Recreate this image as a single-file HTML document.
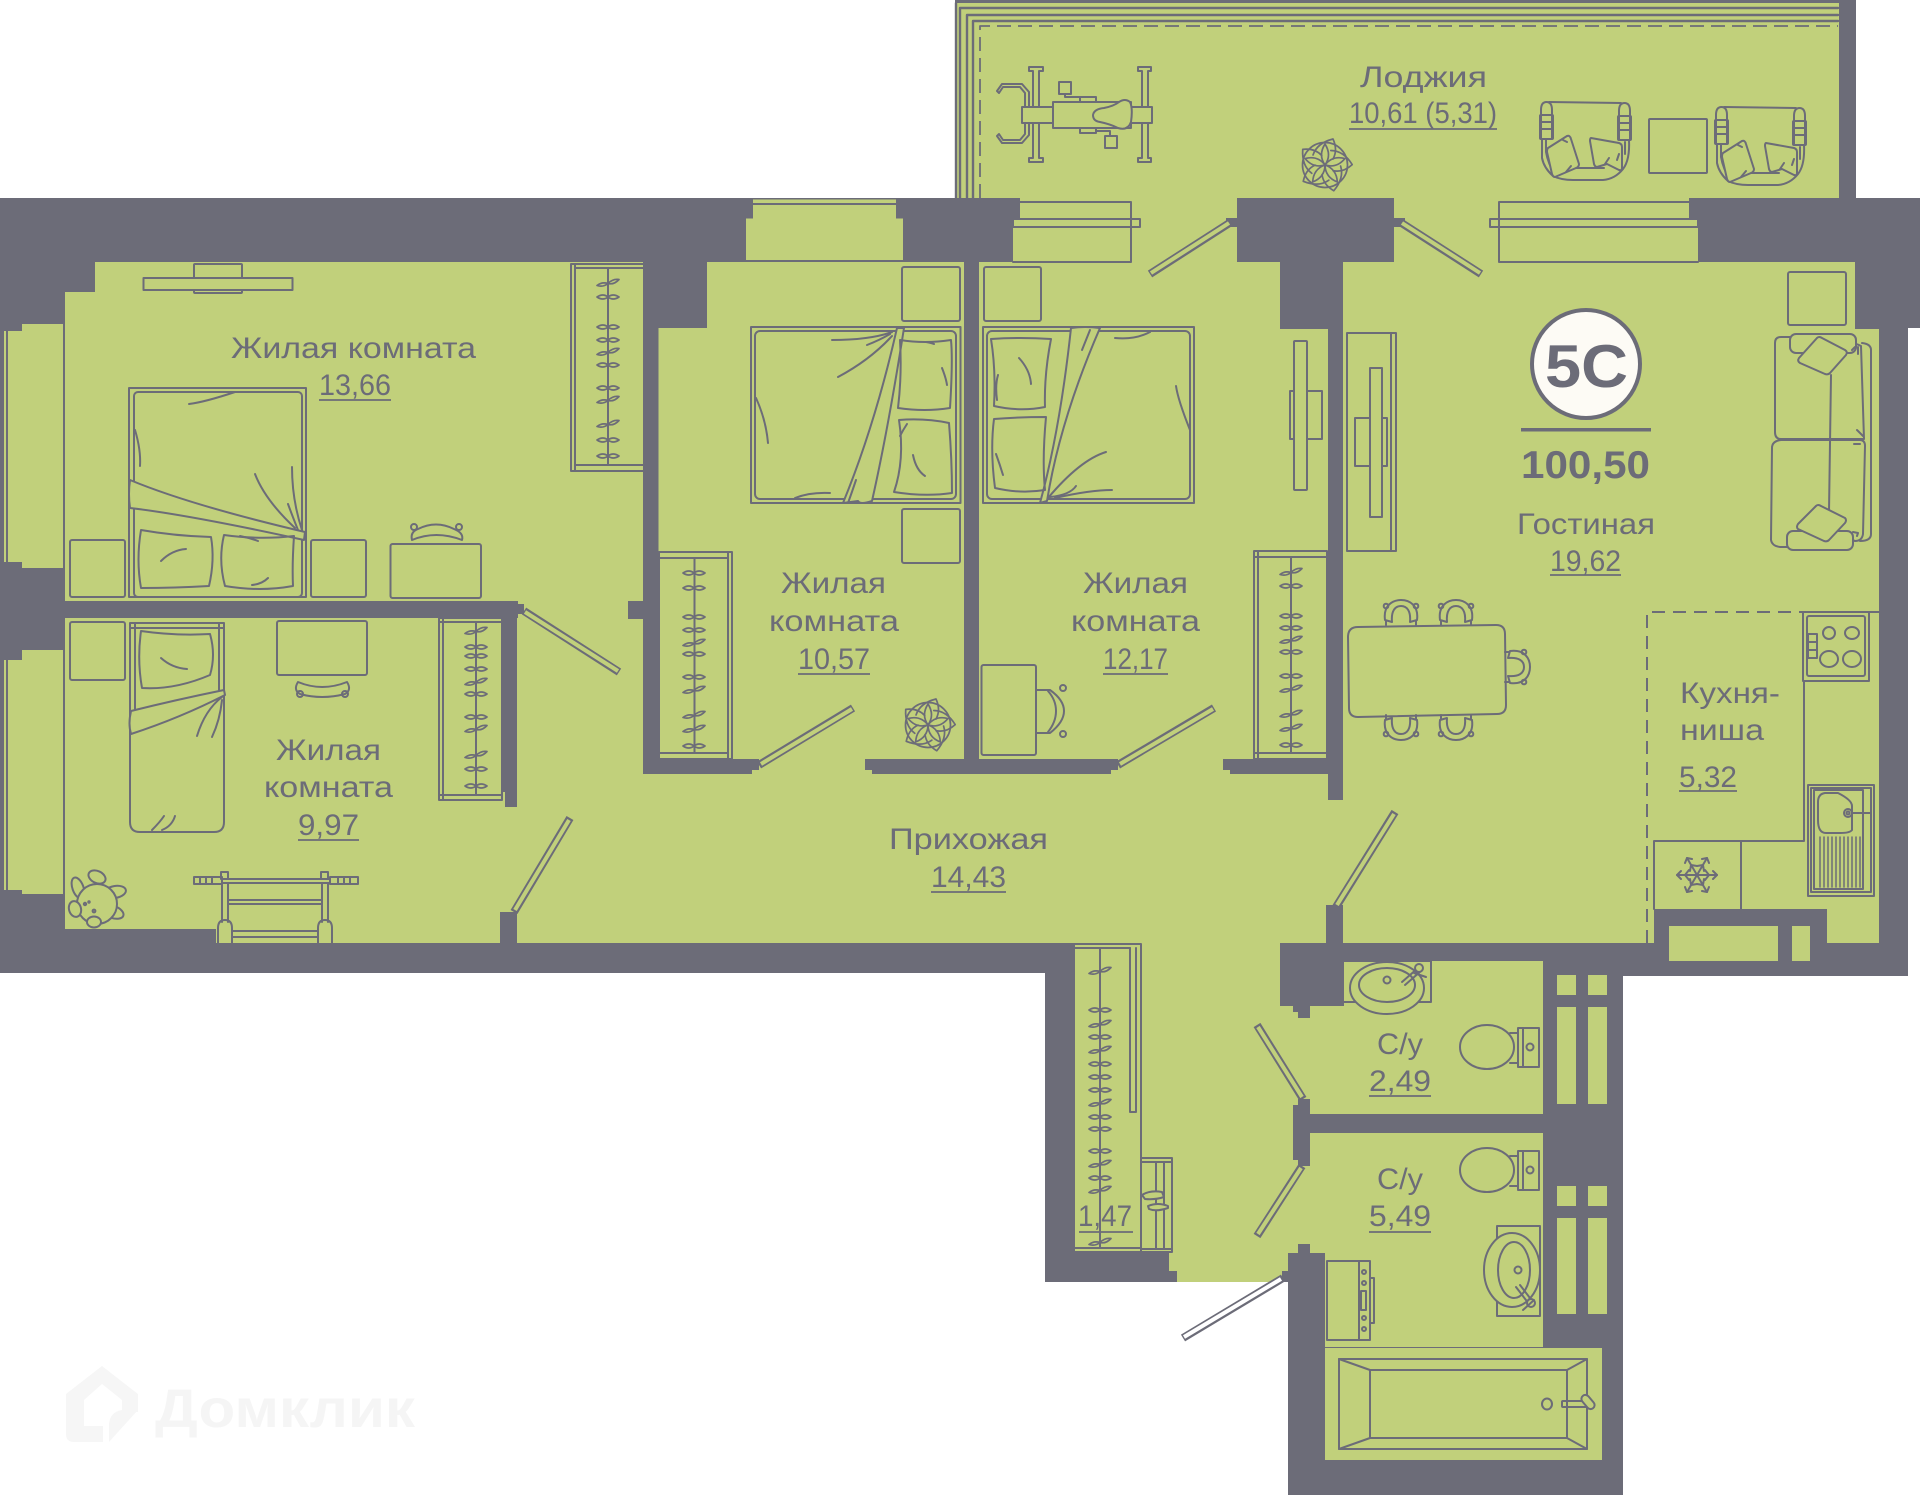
<!DOCTYPE html>
<html lang="ru">
<head>
<meta charset="utf-8">
<title>План квартиры</title>
<style>
html,body{margin:0;padding:0;background:#fff}
svg{display:block}
text{font-family:"Liberation Sans","DejaVu Sans",sans-serif;fill:#6c6c78}
</style>
</head>
<body>
<svg xmlns="http://www.w3.org/2000/svg" width="1920" height="1495" viewBox="0 0 1920 1495">
<defs>
<g id="h"><path d="M-11,2.500 Q-6,-1.500 0,0.500 Q-5,4.500 -11,2.500Z M0,0.500 Q5,-4.500 11,-3.500 Q6,2 0,0.500Z"/></g>
<g id="f"><path d="M-11,0 Q-5,-4 0,0 Q-5,4 -11,0Z M0,0 Q5,-4 11,0 Q5,4 0,0Z"/></g>
<g id="pp"><path d="M0,0 Q-7,-10 0,-21 Q7,-10 0,0Z"/><path d="M-12,-10 Q-8,-22 8,-26 Q13,-15 8,-6"/></g>
<g id="plant">
<circle r="22.500"/>
<use href="#pp"/><use href="#pp" transform="rotate(72)"/><use href="#pp" transform="rotate(144)"/><use href="#pp" transform="rotate(216)"/><use href="#pp" transform="rotate(288)"/>
</g>
<g id="chair">
<path d="M2,20 C0,5 10,0 18,0 C26,0 36,5 34,20 L27,22 C28,11 24,6 18,6 C12,6 8,11 9,22 Z"/>
<circle cx="3" cy="6" r="2.300"/><circle cx="33" cy="6" r="2.300"/>
<path d="M3,21 V25 M33,21 V25"/>
</g>
<g id="arm">
<path d="M8,0 L80,1"/>
<path d="M0,36 V8 Q0,0 5.500,0 Q11,0 11,8 V36"/>
<path d="M78,37 V9 Q78,1 83.500,1 Q89,1 89,9 V37"/>
<rect x="-1" y="13" width="13" height="24" rx="1"/><rect x="77" y="14" width="13" height="24" rx="1"/>
<path d="M-1,20 H12 M-1,27 H12 M77,21 H90 M77,28 H90"/>
<path d="M1,37 V56 Q3,66 12,74 Q20,78 32,78 H62 Q74,77 82,67 Q89,58 88,38"/>
<path d="M5,37 V50 Q7,62 14,72"/><path d="M34,66 H63 M84,40 V52"/>
<path d="M14,74 Q22,67 34,66"/>
<path d="M7,46 L26,34 Q29,33 30,37 L38,62 Q38,65 35,66 L14,75 Q12,75 11,72 L6,50 Q6,47 7,46Z" fill="#c1d07b"/>
<path d="M50,36 L78,41 Q81,42 81,45 V66 Q81,69 78,68 L66,62 L56,65 Q54,65 53,62 L49,39 Q49,36 50,36Z" fill="#c1d07b"/>
<path d="M22,38 L26,40 M25,70 L30,64 M64,62 L68,56 M78,52 L76,58"/>
</g>
<g id="toilet">
<ellipse cx="0" cy="0" rx="27" ry="22"/>
<path d="M23,-14 H31 V16 H23"/>
<path d="M31,-19 H52 V20 H31Z"/>
<path d="M36,-19 V20"/>
<circle cx="43" cy="0" r="3.500"/>
</g>
</defs>

<!-- watermark -->
<g fill="#f6f6f6" stroke="none">
<path d="M66,1394 L102,1366 L138,1394 V1412 H122 V1400 L102,1384 L84,1400 V1426 H103 V1442 H74 Q66,1442 66,1434Z"/>
<path d="M109,1442 V1424 Q110,1412 122,1410 L138,1410Z"/>
<text x="155" y="1427" font-size="54" font-weight="bold" textLength="260" lengthAdjust="spacingAndGlyphs" style="fill:#f5f5f5">Домклик</text>
</g>

<!-- walls base -->
<polygon fill="#6c6c78" points="0,198 1920,198 1920,328 1908,328 1908,976 1623,976 1623,1495 1288,1495 1288,1282 1045,1282 1045,973 0,973"/>

<!-- green areas -->
<g fill="#c1d07b">
<rect x="955" y="0" width="884" height="198"/>
<rect x="65" y="262" width="1790" height="681"/>
<rect x="1855" y="329" width="24" height="614"/>
<rect x="1020" y="198" width="217" height="64"/>
<rect x="1013" y="219" width="10" height="43"/>
<rect x="1394" y="198" width="295" height="64"/>
<rect x="1689" y="219" width="9" height="43"/>
<rect x="753" y="199.500" width="143" height="20"/>
<rect x="746" y="218.500" width="157" height="41.500"/>
<rect x="22" y="324" width="43" height="244"/>
<rect x="2" y="331" width="20" height="231"/>
<rect x="22" y="650" width="43" height="244"/>
<rect x="2" y="660" width="20" height="230"/>
<polygon points="1075,943 1543,943 1543,1253 1288,1253 1288,1282 1177,1282 1177,1271 1169,1271 1169,1253 1075,1253"/>
<rect x="1325" y="1253" width="218" height="94"/>
<rect x="1325" y="1348" width="277" height="112"/>
<rect x="1557" y="975" width="19" height="20"/><rect x="1588" y="975" width="19" height="20"/>
<rect x="1557" y="1007" width="19" height="97"/><rect x="1588" y="1007" width="19" height="97"/>
<rect x="1557" y="1186" width="19" height="20"/><rect x="1588" y="1186" width="19" height="20"/>
<rect x="1557" y="1218" width="19" height="96"/><rect x="1588" y="1218" width="19" height="96"/>
</g>

<!-- wall overlays -->
<g fill="#6c6c78">
<rect x="65" y="262" width="30" height="30"/>
<rect x="0" y="601" width="518" height="17"/>
<rect x="518" y="604" width="6" height="10"/>
<rect x="502" y="618" width="15" height="174"/>
<rect x="505" y="792" width="12" height="15"/>
<rect x="628" y="601" width="16" height="18"/>
<rect x="643" y="262" width="15.500" height="512"/>
<rect x="643" y="262" width="64" height="66"/>
<rect x="644" y="759" width="108" height="15"/>
<rect x="752" y="759" width="7" height="11"/>
<rect x="964" y="262" width="15" height="497"/>
<rect x="872" y="759" width="239" height="15"/>
<rect x="865" y="759" width="7" height="11"/>
<rect x="1111" y="759" width="7" height="11"/>
<rect x="1223" y="759" width="7" height="11"/>
<rect x="1230" y="759" width="98" height="15"/>
<rect x="1280" y="262" width="63" height="67"/>
<rect x="1328" y="329" width="15" height="471"/>
<rect x="500" y="912" width="17" height="31"/>
<rect x="65" y="929" width="151" height="14"/>
<rect x="1326" y="905" width="17" height="38"/>
<rect x="1654" y="909" width="173" height="34"/>
<rect x="1237" y="198" width="157" height="64"/>
<rect x="1226" y="218" width="11" height="9"/>
<rect x="1394" y="218" width="11" height="9"/>
<rect x="1280" y="943" width="64" height="63"/>
<rect x="1344" y="943" width="199" height="18"/>
<rect x="1293" y="1006" width="17" height="6"/>
<rect x="1298" y="1012" width="12" height="6"/>
<rect x="1293" y="1114" width="250" height="19"/>
<rect x="1293" y="1105" width="17" height="55"/>
<rect x="1298" y="1099" width="12" height="67"/>
<rect x="1298" y="1244" width="12" height="9"/>
<rect x="1288" y="1253" width="37" height="30"/>
<rect x="1282" y="1271" width="6" height="11"/>
<rect x="1839" y="0" width="17" height="198"/>
<rect x="955" y="0" width="901" height="3"/>
<rect x="753" y="203" width="143" height="2"/>
<rect x="746" y="260" width="157" height="2"/>
</g>
<g fill="#c1d07b">
<rect x="1669" y="926" width="109" height="35"/>
<rect x="1792" y="926" width="18" height="35"/>
</g>

<!-- doors -->
<g stroke-linecap="butt" fill="none">
<g stroke="#6c6c78" stroke-width="8">
<path d="M524,611 L619,672"/><path d="M514,912 L570,818"/><path d="M759,765 L853,708"/><path d="M1118,765 L1214,708"/>
<path d="M1231,222 L1150,274"/><path d="M1400,222 L1481,274"/><path d="M1336,907 L1395,812"/>
<path d="M1303,1099 L1257,1025"/><path d="M1302,1166 L1257,1236"/><path d="M1283,1278 L1183,1338"/>
</g>
<g stroke="#c1d07b" stroke-width="4">
<path d="M525,612 L618,671"/><path d="M515,910 L569,820"/><path d="M761,764 L852,709"/><path d="M1120,764 L1213,709"/>
<path d="M1229,223 L1151,273"/><path d="M1402,223 L1480,273"/><path d="M1337,905 L1394,814"/>
<path d="M1302,1097 L1258,1027"/><path d="M1301,1168 L1258,1234"/>
</g>
<path d="M1281,1279 L1184,1337" stroke="#fff" stroke-width="4"/>
</g>

<!-- furniture / line art -->
<g fill="none" stroke="#6c6c78" stroke-width="2" stroke-linejoin="round" stroke-linecap="round">
<!-- room A -->
<rect x="194" y="264" width="48" height="29" rx="1"/>
<rect x="143.500" y="278" width="149" height="12" fill="#c1d07b"/>
<rect x="129" y="388" width="177" height="209"/>
<rect x="134" y="392" width="168" height="205" rx="4"/>
<path d="M189,404 Q205,402 235,392"/><path d="M135,430 Q141,450 140,466"/>
<path d="M130,480 Q190,505 305,532 L304,540 Q190,515 130,508 Q128,494 130,480Z" fill="#c1d07b"/>
<path d="M255,474 Q265,500 295,528"/><path d="M292,467 Q292,500 302,530"/><path d="M288,504 Q292,515 298,530"/>
<path d="M141,530 Q175,536 211,537 Q215,560 209,586 Q175,588 141,588 Q136,560 141,530Z"/>
<path d="M161,561 Q172,550 186,549"/>
<path d="M224,535 Q260,540 294,536 Q292,565 293,586 Q260,592 225,586 Q218,560 224,535Z"/>
<path d="M240,536 Q250,538 258,541"/><path d="M252,585 Q262,584 268,578"/>
<rect x="70" y="540" width="55" height="57" rx="2"/>
<rect x="311" y="540" width="55" height="57" rx="2"/>
<rect x="390.500" y="544" width="90.500" height="54" rx="2"/>
<path d="M412,540 Q410,532 418,529 Q436,520 454,529 Q464,533 462,540 Q436,530 412,540Z"/><circle cx="414" cy="527" r="3"/><circle cx="459" cy="527" r="3"/>
<rect x="571" y="264" width="73" height="207"/><path d="M575,264 V471 M575,268 H644 M575,465 H644 M608,268 V465"/>
<g stroke-width="1.700">
<use href="#h" x="608" y="283"/><use href="#f" x="608" y="297"/><use href="#f" x="608" y="327"/><use href="#f" x="608" y="340"/><use href="#h" x="608" y="352"/><use href="#f" x="608" y="365"/><use href="#f" x="608" y="388"/><use href="#h" x="608" y="400"/><use href="#h" x="608" y="424"/><use href="#f" x="608" y="440"/><use href="#f" x="608" y="456"/>
</g>

<!-- room D -->
<rect x="70" y="622" width="55" height="58" rx="2"/>
<path d="M130,623 H224 V822 Q224,832 214,832 H140 Q130,832 130,822Z"/>
<path d="M135,623 V712 M219,623 V690 M130,628 H224"/>
<path d="M141,631 Q175,636 210,634 Q216,655 210,675 Q175,690 142,688 Q137,660 141,631Z"/>
<path d="M161,658 Q172,668 187,669"/>
<path d="M224,690 Q175,700 131,711 Q128,724 131,734 Q180,718 225,695Z" fill="#c1d07b"/>
<path d="M222,697 Q205,710 197,736"/><path d="M222,700 Q220,720 212,737"/>
<path d="M152,830 Q160,822 164,816"/><path d="M162,830 Q172,826 175,816"/>
<rect x="277" y="621" width="90" height="54" rx="2"/>
<path d="M298,682 Q322,692 347,682 Q352,690 345,694 Q322,700 300,694 Q293,690 298,682Z"/><circle cx="300" cy="694" r="3"/><circle cx="345" cy="694" r="3"/>
<rect x="439" y="618" width="63" height="182"/><path d="M443,618 V800 M439,622 H502 M439,795 H502 M476,622 V795"/>
<g stroke-width="1.700">
<use href="#h" x="476" y="631"/><use href="#f" x="476" y="647"/><use href="#f" x="476" y="656"/><use href="#f" x="476" y="669"/><use href="#h" x="476" y="682"/><use href="#f" x="476" y="694"/><use href="#f" x="476" y="717"/><use href="#h" x="476" y="729"/><use href="#h" x="476" y="755"/><use href="#f" x="476" y="769"/><use href="#f" x="476" y="786"/>
</g>
<!-- toy -->
<ellipse cx="78" cy="888" rx="5.500" ry="11" transform="rotate(-20 78 888)"/>
<ellipse cx="97" cy="877" rx="9" ry="6" transform="rotate(25 97 877)"/>
<ellipse cx="115" cy="892" rx="11" ry="6" transform="rotate(-10 115 892)"/>
<ellipse cx="113" cy="912" rx="11" ry="6" transform="rotate(20 113 912)"/>
<circle cx="97" cy="904" r="20" fill="#c1d07b"/>
<ellipse cx="75" cy="909" rx="6" ry="8" fill="#c1d07b" transform="rotate(-15 75 909)"/>
<ellipse cx="94" cy="922" rx="7" ry="5.500" fill="#c1d07b"/>
<circle cx="85" cy="904" r="1.200"/><circle cx="94" cy="911" r="1.400"/><circle cx="89" cy="902" r="0.700"/>
<!-- rack -->
<rect x="194" y="877" width="28" height="7"/><rect x="330" y="877" width="28" height="7"/>
<path d="M200,877 V884 M206,877 V884 M212,877 V884 M338,877 V884 M344,877 V884 M350,877 V884"/>
<path d="M222,879 H330 M222,883 H330"/>
<rect x="221" y="872" width="7" height="7"/><rect x="321" y="872" width="7" height="7"/>
<path d="M222,884 V922 M228,884 V922 M322,884 V922 M328,884 V922"/>
<path d="M228,900 H322 M228,904 H322 M232,931 H318 M232,937 H318"/>
<path d="M218,943 V928 Q218,920 225,920 Q232,920 232,928 V943"/>
<path d="M318,943 V928 Q318,920 325,920 Q332,920 332,928 V943"/>

<!-- room B -->
<rect x="902" y="267" width="58" height="54" rx="2"/>
<rect x="751" y="327" width="209.500" height="176"/>
<rect x="755" y="331" width="201" height="168" rx="5"/>
<path d="M832,340 Q870,340 892,332"/><path d="M838,377 Q870,360 892,336"/><path d="M867,345 Q880,340 890,334"/>
<path d="M756,398 Q766,420 768,443"/><path d="M795,498 Q810,492 830,493"/>
<path d="M897,328 H904 Q888,430 872,501 Q860,505 858,501 L843,503 Q875,425 897,328Z" fill="#c1d07b"/>
<path d="M856,480 Q852,492 848,503"/>
<path d="M900,340 Q925,344 951,340 Q953,360 950,408 Q925,412 898,408 Q902,375 900,340Z"/>
<path d="M926,342 Q932,343 934,344"/><path d="M942,368 Q946,378 947,385"/>
<path d="M899,420 Q925,418 949,423 Q952,460 952,493 Q925,497 894,492 Q905,460 899,420Z"/>
<path d="M907,424 Q903,430 900,436"/><path d="M913,455 Q916,470 925,476"/>
<rect x="902" y="509" width="58" height="54" rx="2"/>
<rect x="659" y="552" width="73" height="207"/><path d="M728,552 V759 M659,558 H728 M659,753 H728 M694.500,558 V753"/>
<g stroke-width="1.700">
<use href="#f" x="694" y="573"/><use href="#f" x="694" y="588"/><use href="#f" x="694" y="617"/><use href="#f" x="694" y="630"/><use href="#h" x="694" y="643"/><use href="#f" x="694" y="654"/><use href="#f" x="694" y="677"/><use href="#h" x="694" y="690"/><use href="#h" x="694" y="715"/><use href="#h" x="694" y="729"/><use href="#f" x="694" y="746"/>
</g>
<use href="#plant" x="928" y="725" stroke-width="1.700"/>

<!-- room C -->
<rect x="984" y="267" width="57" height="54" rx="2"/>
<rect x="983" y="327" width="211" height="176"/>
<rect x="987" y="331" width="203" height="168" rx="5"/>
<path d="M1115,338 Q1135,340 1150,332"/><path d="M1176,386 Q1178,400 1190,430"/>
<path d="M1048,498 Q1080,460 1106,452"/><path d="M1050,497 Q1070,495 1076,486"/><path d="M1055,498 Q1090,490 1112,490"/>
<path d="M1071,328 Q1085,326 1100,328 Q1060,420 1047,501 L1040,503 Q1060,430 1071,328Z" fill="#c1d07b"/>
<path d="M1090,330 Q1086,340 1082,350"/>
<path d="M991,339 Q1020,337 1051,339 Q1044,375 1045,407 Q1020,412 994,406 Q996,370 991,339Z"/>
<path d="M1019,358 Q1030,370 1031,384"/><path d="M998,375 Q995,385 997,400"/>
<path d="M994,419 Q1020,417 1046,417 Q1042,460 1045,490 Q1020,494 995,488 Q990,450 994,419Z"/>
<path d="M996,454 Q1000,465 1003,475"/>
<rect x="981.500" y="665" width="54.500" height="90" rx="2"/>
<path d="M1037,690 H1050 Q1064,700 1064,711 Q1064,722 1050,733 H1037"/><path d="M1048,691 Q1056,700 1056,711 Q1056,722 1048,732"/>
<circle cx="1063" cy="688" r="3"/><circle cx="1063" cy="734" r="3"/>
<rect x="1294" y="341" width="13" height="149" rx="1"/>
<path d="M1294,391 H1290 V439 H1294"/><path d="M1307,391 H1322 V439 H1307"/>
<rect x="1254" y="551" width="73" height="208"/><path d="M1258,551 V759 M1254,557 H1327 M1254,753 H1327 M1291,557 V753"/>
<g stroke-width="1.700">
<use href="#h" x="1291" y="572"/><use href="#f" x="1291" y="586"/><use href="#f" x="1291" y="616"/><use href="#f" x="1291" y="628"/><use href="#h" x="1291" y="640"/><use href="#f" x="1291" y="652"/><use href="#f" x="1291" y="676"/><use href="#h" x="1291" y="689"/><use href="#h" x="1291" y="714"/><use href="#h" x="1291" y="728"/><use href="#f" x="1291" y="745"/>
</g>

<!-- loggia -->
<g stroke-width="2.400">
<path d="M956,198 V3 M960,198 V8 H1838 M967,198 V15 H1838 M973,198 V21 H1838"/>
</g>
<path d="M980,198 V26 H1838" stroke-dasharray="14 7" stroke-width="1.800" stroke-linecap="butt"/>
<!-- bike -->
<path d="M1029,107 V92 L1022,84 H1002 L997,91 L999,93 L1003,87 H1020 L1025,93 V107"/>
<path d="M1029,123 V135 L1022,143 H1002 L997,136 L999,134 L1003,140 H1020 L1025,134 V123"/>
<path d="M1029,67 H1043 V71 H1039 V158 H1043 V162 H1029 V158 H1033 V71 H1029Z"/>
<path d="M1138,67 H1151 V71 H1148 V158 H1151 V162 H1138 V158 H1142 V71 H1138Z"/>
<rect x="1022" y="107" width="130" height="16" fill="#c1d07b"/>
<rect x="1053" y="102" width="78" height="26" fill="#c1d07b"/>
<path d="M1093,115 Q1094,109 1104,108 Q1114,106 1119,102 Q1125,98 1130,102 Q1133,108 1131,122 Q1128,131 1118,128 Q1110,124 1100,122 Q1093,121 1093,115Z" fill="#c1d07b"/>
<rect x="1059" y="82" width="12" height="12"/><path d="M1065,94 V97 H1080 M1080,102 V97 H1096 V102"/>
<rect x="1105" y="136" width="12" height="12"/><path d="M1080,128 V133 H1096 V128 M1096,131 H1110 V136"/>
<use href="#plant" x="1325" y="165" stroke-width="1.700"/>
<use href="#arm" x="1541" y="102"/>
<use href="#arm" x="1716" y="107"/>
<rect x="1649" y="119" width="58" height="54" rx="1"/>
<!-- windows top -->
<path d="M1013,262 H1131 V202 H1020" stroke-width="2"/>
<rect x="1013" y="219" width="127" height="8"/>
<path d="M1689,202 H1499 V262 H1698"/>
<rect x="1490" y="219" width="208" height="8"/>
<!-- left windows -->
<path d="M3,331 V562 M7,331 V562 M64,324 V568 M3,660 V890 M7,660 V890 M64,650 V894"/>

<!-- living -->
<rect x="1347" y="333" width="49" height="218"/><path d="M1391,333 V551"/>
<rect x="1355" y="418" width="32" height="48"/>
<rect x="1370" y="368" width="12" height="149" fill="#c1d07b"/>
<rect x="1788" y="272" width="58" height="53" rx="2"/>
<!-- sofa -->
<path d="M1862,343 Q1871,344 1871,350 V534 Q1871,541 1860,541"/>
<path d="M1790,337 H1781 Q1775,337 1775,343 V432 Q1775,439 1781,439 H1864 L1861,346 Q1850,340 1842,347"/>
<path d="M1781,440 H1860 Q1865,440 1865,446 L1863,534 Q1862,541 1855,541 L1836,534"/>
<path d="M1781,440 Q1772,441 1772,448 L1771,540 Q1772,546 1780,547 H1788"/>
<path d="M1831,375 L1829,512"/>
<rect x="1790" y="334" width="66" height="19" rx="6" fill="#c1d07b"/>
<rect x="1787" y="531" width="66" height="19" rx="6" fill="#c1d07b"/>
<path d="M1817,338 Q1819,336 1822,338 L1845,350 Q1848,352 1846,355 L1830,373 Q1828,375 1825,374 L1800,363 Q1797,361 1799,358Z" fill="#c1d07b"/>
<path d="M1816,506 Q1818,504 1821,506 L1845,518 Q1847,520 1845,523 L1829,540 Q1827,542 1824,541 L1798,529 Q1796,527 1798,524Z" fill="#c1d07b"/>
<path d="M1852,350 L1855,347 M1858,347 L1858,354 M1857,430 L1863,436 M1854,444 H1860 M1853,532 L1858,533 L1857,536"/>
<!-- table -->
<path d="M1358,627 L1496,625 Q1505,625 1505,634 L1506,705 Q1506,714 1497,714 L1358,717 Q1349,717 1349,708 L1348,637 Q1348,627 1358,627Z" fill="#c1d07b"/>
<use href="#chair" x="1383" y="600"/><use href="#chair" x="1438" y="600"/>
<use href="#chair" transform="translate(1383 740) scale(1 -1)"/><use href="#chair" transform="translate(1438 740) scale(1 -1)"/>
<use href="#chair" transform="translate(1530 649) rotate(90)"/>
<path d="M1647,943 V612 H1804" stroke-dasharray="13 8" stroke-linecap="butt"/>
<path d="M1804,612 H1879 M1804,612 V841 H1654 V909 M1741,841 V909"/>
<rect x="1803" y="612" width="66" height="69" fill="#c1d07b"/>
<rect x="1807" y="616" width="58" height="60" rx="2"/>
<rect x="1808" y="634" width="9" height="24"/><path d="M1808,642 H1817 M1808,650 H1817"/>
<ellipse cx="1829" cy="633" rx="6" ry="6"/><ellipse cx="1852" cy="633" rx="7" ry="6"/><ellipse cx="1829" cy="659" rx="9" ry="8"/><ellipse cx="1852" cy="659" rx="9" ry="8"/>
<rect x="1808" y="785" width="66" height="111"/><rect x="1811" y="788" width="60" height="104"/><rect x="1814" y="790" width="49" height="99"/>
<path d="M1825,793 H1838 Q1852,800 1852,806 V830 Q1850,833 1840,833 H1826 Q1818,833 1818,820 V802 Q1818,794 1825,793Z"/>
<circle cx="1848" cy="813" r="4"/><circle cx="1848" cy="813" r="1.500"/><path d="M1852,813 H1870"/>
<path stroke-width="1.500" d="M1820,837 V887 M1824,837 V887 M1828,837 V887 M1832,837 V887 M1836,837 V887 M1840,837 V887 M1844,837 V887 M1848,837 V887 M1852,837 V887 M1856,837 V887 M1860,837 V887"/>
<g transform="translate(1697 875)" stroke-width="2">
<path d="M-20,0 H20 M-10,-17 L10,17 M10,-17 L-10,17"/>
<path d="M-20,0 L-16,-4 M-20,0 L-16,4 M20,0 L16,-4 M20,0 L16,4 M-10,-17 L-12,-12 M-10,-17 L-5,-16 M10,-17 L12,-12 M10,-17 L5,-16 M-10,17 L-12,12 M-10,17 L-5,16 M10,17 L12,12 M10,17 L5,16"/>
<path d="M-12,0 L-8,-5 M-12,0 L-8,5 M12,0 L8,-5 M12,0 L8,5 M-6,-10 L-7,-4 M-6,-10 L0,-9 M6,-10 L7,-4 M6,-10 L0,-9 M-6,10 L-7,4 M-6,10 L0,9 M6,10 L7,4 M6,10 L0,9"/>
</g>

<!-- closet -->
<path d="M1075,944 H1141 V1252 H1075 M1075,948 H1130 M1100,948 V1248 M1075,1248 H1141"/>
<path d="M1130,948 V1112 H1136 V1080 M1136,948 V1080"/>
<rect x="1141" y="1158" width="31" height="94"/><path d="M1141,1162 H1172 M1141,1249 H1172 M1156,1162 V1249 M1164,1162 V1249"/>
<path d="M1142,1195 Q1150,1190 1162,1192 L1164,1197 Q1155,1200 1145,1199 Z" fill="#c1d07b"/>
<path d="M1148,1206 Q1158,1202 1168,1206 V1208 Q1156,1212 1149,1209Z" fill="#c1d07b"/>
<g stroke-width="1.700">
<use href="#h" x="1100" y="971"/><use href="#f" x="1100" y="1010"/><use href="#h" x="1100" y="1024"/><use href="#f" x="1100" y="1037"/><use href="#h" x="1100" y="1050"/><use href="#f" x="1100" y="1064"/><use href="#f" x="1100" y="1077"/><use href="#f" x="1100" y="1090"/><use href="#h" x="1100" y="1103"/><use href="#f" x="1100" y="1117"/><use href="#f" x="1100" y="1129"/><use href="#f" x="1100" y="1151"/><use href="#h" x="1100" y="1164"/><use href="#f" x="1100" y="1178"/><use href="#h" x="1100" y="1190"/><use href="#h" x="1100" y="1242"/>
</g>

<!-- wc 1 -->
<path d="M1344,961 H1431 V1002 H1344"/>
<ellipse cx="1387" cy="988" rx="37" ry="26" fill="#c1d07b"/>
<ellipse cx="1387" cy="985" rx="28" ry="17"/>
<circle cx="1387" cy="980" r="3.500"/>
<path d="M1402,982 L1418,968 M1405,985 L1421,971"/><circle cx="1419" cy="968" r="4" fill="#c1d07b"/><path d="M1414,973 L1426,977"/>
<use href="#toilet" x="1487" y="1047"/>
<use href="#toilet" x="1487" y="1170"/>
<!-- bath -->
<path d="M1540,1226 H1497 V1316 H1540 V1226"/>
<ellipse cx="1512" cy="1270" rx="28" ry="37" fill="#c1d07b"/>
<ellipse cx="1514" cy="1270" rx="16" ry="28"/>
<circle cx="1518" cy="1270" r="3.500"/>
<path d="M1516,1287 L1529,1304 M1520,1285 L1533,1302"/><circle cx="1531" cy="1303" r="4" fill="#c1d07b"/><path d="M1523,1310 L1534,1300"/>
<rect x="1327" y="1261" width="43" height="79"/>
<path d="M1359,1261 V1340"/><path d="M1370,1278 H1374 V1323 H1370"/>
<circle cx="1364" cy="1272" r="2"/><circle cx="1364" cy="1283" r="2"/><circle cx="1364" cy="1318" r="2"/><circle cx="1364" cy="1329" r="2"/>
<rect x="1361" y="1291" width="5" height="19"/>
<rect x="1339" y="1359" width="248" height="90"/>
<rect x="1370" y="1370" width="197" height="68"/>
<path d="M1339,1359 L1370,1370 M1587,1359 L1567,1370 M1339,1449 L1370,1438 M1587,1449 L1567,1438"/>
<ellipse cx="1547" cy="1404" rx="5" ry="5.500"/>
<rect x="1562" y="1401" width="26" height="6" rx="1"/>
<rect x="1584" y="1394" width="8" height="16" rx="4" transform="rotate(-40 1588 1402)" fill="#c1d07b"/>
</g>

<!-- badge -->
<circle cx="1586" cy="364" r="54" fill="#fdfbf5" stroke="#6c6c78" stroke-width="4"/>
<text x="1545" y="387" font-size="60" font-weight="bold" textLength="83" lengthAdjust="spacingAndGlyphs">5С</text>
<rect x="1521" y="428" width="130" height="3.500" fill="#6c6c78"/>
<text x="1521" y="478" font-size="39" font-weight="bold" textLength="129" lengthAdjust="spacingAndGlyphs">100,50</text>

<!-- labels -->
<g font-size="30">
<text x="231" y="358" textLength="245" lengthAdjust="spacingAndGlyphs">Жилая комната</text>
<text x="319" y="395" textLength="72" lengthAdjust="spacingAndGlyphs">13,66</text>
<text x="276" y="760" textLength="105" lengthAdjust="spacingAndGlyphs">Жилая</text>
<text x="264" y="797" textLength="129" lengthAdjust="spacingAndGlyphs">комната</text>
<text x="298" y="835" textLength="61" lengthAdjust="spacingAndGlyphs">9,97</text>
<text x="781" y="593" textLength="105" lengthAdjust="spacingAndGlyphs">Жилая</text>
<text x="769" y="631" textLength="130" lengthAdjust="spacingAndGlyphs">комната</text>
<text x="798" y="669" textLength="72" lengthAdjust="spacingAndGlyphs">10,57</text>
<text x="1083" y="593" textLength="105" lengthAdjust="spacingAndGlyphs">Жилая</text>
<text x="1071" y="631" textLength="129" lengthAdjust="spacingAndGlyphs">комната</text>
<text x="1103" y="669" textLength="65" lengthAdjust="spacingAndGlyphs">12,17</text>
<text x="889" y="849" textLength="159" lengthAdjust="spacingAndGlyphs">Прихожая</text>
<text x="931" y="887" textLength="75" lengthAdjust="spacingAndGlyphs">14,43</text>
<text x="1517" y="534" textLength="138" lengthAdjust="spacingAndGlyphs">Гостиная</text>
<text x="1550" y="571" textLength="71" lengthAdjust="spacingAndGlyphs">19,62</text>
<text x="1680" y="703" textLength="100" lengthAdjust="spacingAndGlyphs">Кухня-</text>
<text x="1680" y="740" textLength="84" lengthAdjust="spacingAndGlyphs">ниша</text>
<text x="1679" y="787" textLength="58" lengthAdjust="spacingAndGlyphs">5,32</text>
<text x="1360" y="87" textLength="127" lengthAdjust="spacingAndGlyphs">Лоджия</text>
<text x="1349" y="123" textLength="148" lengthAdjust="spacingAndGlyphs">10,61 (5,31)</text>
<text x="1377" y="1054" textLength="46" lengthAdjust="spacingAndGlyphs">С/у</text>
<text x="1369" y="1091" textLength="62" lengthAdjust="spacingAndGlyphs">2,49</text>
<text x="1377" y="1189" textLength="46" lengthAdjust="spacingAndGlyphs">С/у</text>
<text x="1369" y="1226" textLength="62" lengthAdjust="spacingAndGlyphs">5,49</text>
<text x="1078" y="1226" textLength="54" lengthAdjust="spacingAndGlyphs">1,47</text>
</g>
<g stroke="#6c6c78" stroke-width="1.800" fill="none">
<path d="M319,400 H391 M298,840 H359 M798,674 H870 M1103,674 H1168 M931,892 H1006 M1550,575 H1621 M1679,791 H1737 M1349,129 H1497 M1369,1096 H1431 M1369,1232 H1431 M1079,1232 H1133"/>
</g>
</svg>
</body>
</html>
